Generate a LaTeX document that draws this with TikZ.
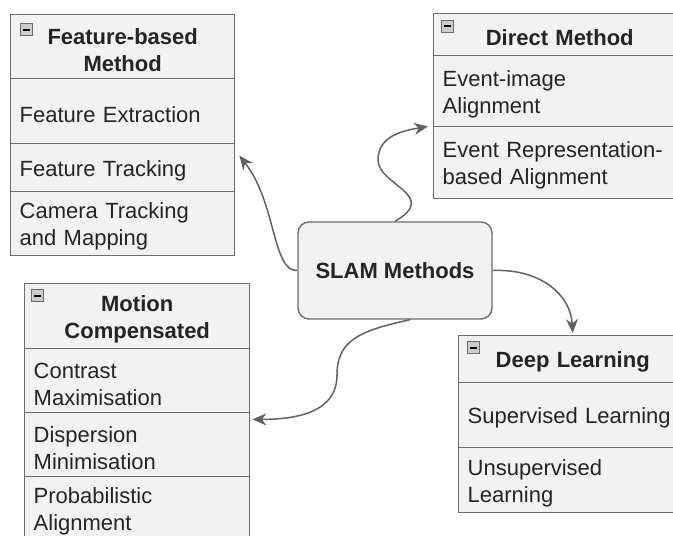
\documentclass[tikz,border=0pt]{standalone}
\usepackage{fontspec}
\setmainfont{Liberation Sans}
\usetikzlibrary{arrows.meta}

\definecolor{boxfill}{RGB}{242,242,242}
\definecolor{boxline}{RGB}{108,108,108}
\definecolor{linkgray}{RGB}{98,98,98}
\definecolor{inkdark}{RGB}{36,36,36}

\begin{document}
\begin{tikzpicture}[x=1pt, y=-1pt,
	every node/.style={font=\fontsize{22}{27}\selectfont, text=inkdark},
	cell/.style={draw=boxline, fill=boxfill, line width=1.4pt, anchor=north west, inner xsep=9pt, inner ysep=0pt, align=left,
		execute at begin node={\rule{0pt}{22pt}}},
	headcell/.style={cell, align=center, font=\fontsize{22}{27}\selectfont\bfseries},
	minus/.style={draw=boxline, fill=gray!40, line width=0.9pt, minimum size=12pt, inner sep=0pt,
		path picture={\fill[black] ([xshift=2.5pt,yshift=-1pt]path picture bounding box.west) rectangle ([xshift=-2.5pt,yshift=1pt]path picture bounding box.east);}},
	link/.style={draw=linkgray, line width=1.5pt, -{Stealth[length=14pt,width=12pt]}}]
	\fill[white] (0,0) rectangle (673,536);
	\useasboundingbox (0,0) rectangle (673,536);

	% feature-based
	\node[headcell, text width=206pt, minimum height=64pt] (feathead) at (10,14) {Feature-based\\Method};
	\node[cell, text width=206pt, minimum height=65pt] (fextract) at (10,78) {Feature Extraction};
	\node[cell, text width=206pt, minimum height=48pt] (ftrack) at (10,143) {Feature Tracking};
	\node[cell, text width=206pt, minimum height=64pt] (fcam) at (10,191) {Camera Tracking\\and Mapping};
	\node[minus] (featicon) at (26,29.5) {};

	% direct
	\node[headcell, text width=234pt, minimum height=42pt] (dirhead) at (433,13) {Direct Method};
	\node[cell, text width=234pt, minimum height=71pt] (dimage) at (433,55) {Event-image\\Alignment};
	\node[cell, text width=234pt, minimum height=72pt] (drep) at (433,126) {Event Representation-\\based Alignment};
	\node[minus] (diricon) at (447,26) {};

	% deep learning
	\node[headcell, text width=210pt, minimum height=47pt] (deephead) at (458,335) {Deep Learning};
	\node[cell, text width=210pt, minimum height=65pt] (dsup) at (458,382) {Supervised Learning};
	\node[cell, text width=210pt, minimum height=65pt] (dunsup) at (458,447) {Unsupervised\\Learning};
	\node[minus] (deepicon) at (473,347.5) {};

	% motion compensated
	\node[headcell, text width=207pt, minimum height=65pt] (mothead) at (24,283) {Motion\\Compensated};
	\node[cell, text width=207pt, minimum height=64pt] (mcontrast) at (24,348) {Contrast\\Maximisation};
	\node[cell, text width=207pt, minimum height=64pt] (mdisp) at (24,412) {Dispersion\\Minimisation};
	\node[cell, text width=207pt, minimum height=64pt] (mprob) at (24,476) {Probabilistic\\Alignment};
	\node[minus] (moticon) at (37.5,295.5) {};

	\node[draw=boxline, fill=boxfill, line width=1.4pt, rounded corners=11pt, minimum width=194pt, minimum height=97pt,
		font=\fontsize{22}{27}\selectfont\bfseries] (slam) at (395,270.5) {SLAM Methods};

	\draw[link] (slam.west) .. controls +(-25,1.5) and +(37,47) .. ([xshift=4pt,yshift=12pt]ftrack.east);
	\draw[link] (slam.north) .. controls +(45,-26) and +(0,25) .. (378,160)
		.. controls +(0,-25) and +(-23,4) .. ([xshift=-5pt,yshift=1pt]dimage.south west);
	\draw[link] (slam.east) .. controls +(48,-2) and +(-2,-38) .. ([yshift=2pt]deephead.north);
	\draw[link] ([xshift=15pt]slam.south) .. controls +(-50,11) and +(0,-35) .. (337,375)
		.. controls +(0,30) and +(59,0) .. ([xshift=2pt,yshift=-6pt]mcontrast.south east);
\end{tikzpicture}
\end{document}
